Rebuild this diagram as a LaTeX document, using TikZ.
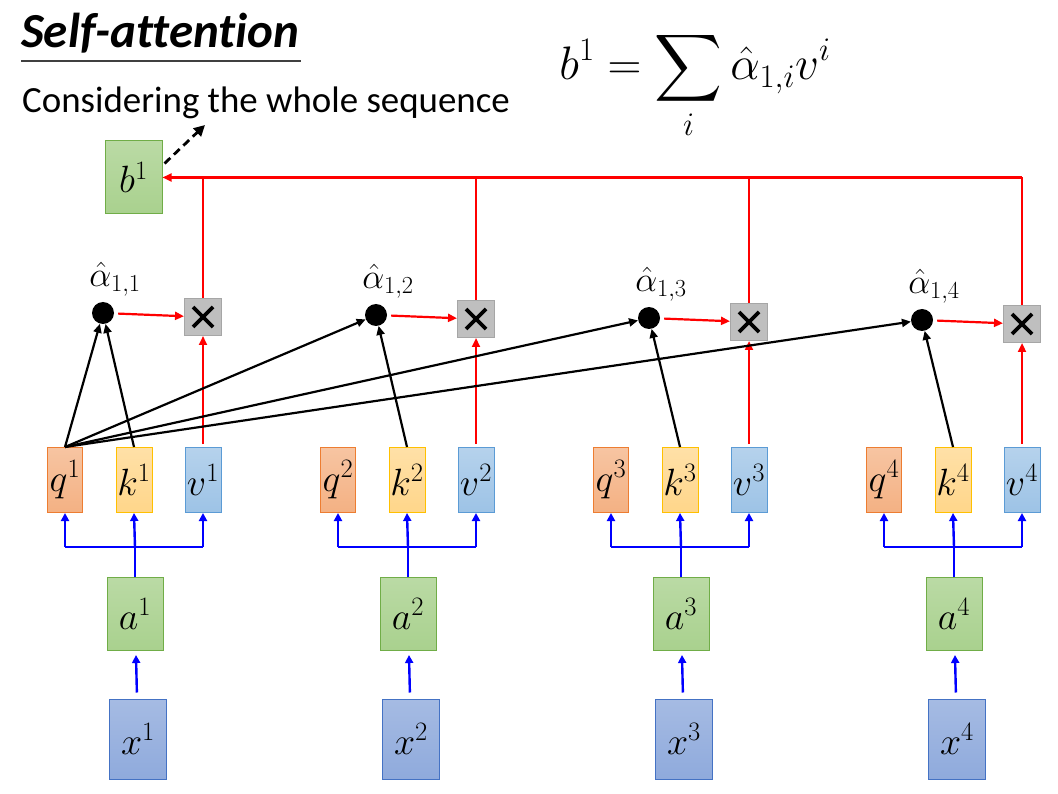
\RequirePackage{fix-cm}
\documentclass[tikz,border=0pt]{standalone}
\usepackage{amsmath,amssymb}
\usepackage{fontspec}
\setmainfont{Carlito}[Ligatures=CommonOff]
\usetikzlibrary{arrows.meta,calc,positioning}

\definecolor{qfill}{HTML}{F4B183}
\definecolor{qline}{HTML}{ED7D31}
\definecolor{kfill}{HTML}{FFD68A}
\definecolor{kline}{HTML}{FFC000}
\definecolor{vfill}{HTML}{9DC3E6}
\definecolor{vline}{HTML}{5B9BD5}
\definecolor{gfill}{HTML}{A9D18E}
\definecolor{gline}{HTML}{70AD47}
\definecolor{xfill}{HTML}{8FAADC}
\definecolor{xline}{HTML}{4472C4}
\definecolor{mfill}{HTML}{BFBFBF}
\definecolor{mline}{HTML}{A6A6A6}

\tikzset{
  box/.style={draw,line width=1pt,inner sep=0pt,font=\fontsize{38}{40}\selectfont},
  qbox/.style={box,draw=qline,top color=qfill!75!white,bottom color=qfill,minimum width=35pt,minimum height=65pt},
  kbox/.style={box,draw=kline,top color=kfill!75!white,bottom color=kfill,minimum width=36pt,minimum height=65pt},
  vbox/.style={box,draw=vline,top color=vfill!75!white,bottom color=vfill,minimum width=36pt,minimum height=65pt},
  gbox/.style={box,draw=gline,top color=gfill!80!white,bottom color=gfill,minimum width=56pt,minimum height=73pt},
  xbox/.style={box,draw=xline,top color=xfill!80!white,bottom color=xfill,minimum width=57pt,minimum height=80pt},
  mulbox/.style={draw=mline,line width=1pt,fill=mfill,minimum size=37pt,inner sep=0pt,
    path picture={\draw[black,line width=3.6pt]
      ($(path picture bounding box.center)+(-10,-10)$)--($(path picture bounding box.center)+(10,10)$)
      ($(path picture bounding box.center)+(-10,10)$)--($(path picture bounding box.center)+(10,-10)$);}},
  dotnode/.style={circle,fill=black,minimum size=22pt,inner sep=0pt},
  alabel/.style={inner sep=0pt,font=\fontsize{35}{38}\selectfont},
  bluearrow/.style={blue,line width=2.4pt,-{Triangle[length=8pt,width=8pt]}},
  blueline/.style={blue,line width=2.4pt},
  redarrow/.style={red,line width=2.2pt,-{Triangle[length=9pt,width=8pt]}},
  redline/.style={red,line width=2.2pt},
  blackarrow/.style={black,line width=2.2pt,-{Triangle[length=9pt,width=8pt]}}
}

\begin{document}
\begin{tikzpicture}[x=1pt,y=-1pt]
  \useasboundingbox (0,0) rectangle (1058,794);

  % title and subtitle
  \node[anchor=base west,inner sep=0pt,font=\fontsize{49}{54}\selectfont\bfseries\itshape] (title) at (21,48) {Self-attention};
  \draw[line width=1.5pt,black!75] (21,61) -- (301,61);
  \node[anchor=base west,inner sep=0pt,font=\fontsize{36.9}{40}\selectfont] (sub) at (22,113) {Considering the whole sequence};

  % formula
  \node[anchor=base,inner sep=0pt,font=\fontsize{47}{50}\selectfont] (eq) at (695,80)
    {$\displaystyle b^1=\sum_i \hat{\alpha}_{1,i}v^i$};

  % output
  \node[gbox,minimum width=57pt,minimum height=73pt] (b1) at (133.5,177.5) {$b^1$};
  \coordinate (tip) at (205,125);
  \draw[black,line width=2.8pt,dash pattern=on 8pt off 5pt,-{Triangle[length=11pt,width=11pt]}]
    ([yshift=14pt,xshift=2pt]b1.east) -- (tip);

  % four positions
  \foreach \i/\kx/\dy in {1/134/313,2/407/315,3/680/318,4/953/320}{
    \node[xbox] (x\i) at (\kx+4,739) {$x^{\i}$};
    \node[gbox] (a\i) at (\kx+1,614) {$a^{\i}$};
    \node[qbox] (q\i) at (\kx-69,480) {$q^{\i}$};
    \node[kbox] (k\i) at (\kx,480) {$k^{\i}$};
    \node[vbox] (v\i) at (\kx+69,480) {$v^{\i}$};
    \node[dotnode] (d\i) at (\kx-31,\dy) {};
    \node[alabel,above=5pt of d\i,xshift=12pt] (l\i) {$\hat{\alpha}_{1,\i}$};
    \node[mulbox] (m\i) at (\kx+69,\dy+4) {};

    % x -> a -> q,k,v
    \draw[bluearrow,shorten <=6pt,shorten >=4pt] (x\i) -- (a\i);
    \draw[blueline] (a\i.north) -- ++(0,-30) coordinate (j\i);
    \draw[blueline] (q\i.south |- j\i) -- (v\i.south |- j\i);
    \draw[bluearrow] (q\i.south |- j\i) -- (q\i.south);
    \draw[bluearrow] (j\i) -- (k\i.south);
    \draw[bluearrow] (v\i.south |- j\i) -- (v\i.south);

    % attention
    \draw[blackarrow] (k\i.north) -- (d\i);
    \draw[blackarrow] (q1.north) -- (d\i);
    \draw[redarrow,shorten <=4pt] (d\i) -- (m\i);
    \draw[redarrow,shorten <=3pt] (v\i) -- (m\i);
    \draw[redline] (m\i.north) -- (m\i.north |- b1.east);
  }
  \draw[redarrow] (m4.north |- b1.east) -- (b1.east);
\end{tikzpicture}
\end{document}
